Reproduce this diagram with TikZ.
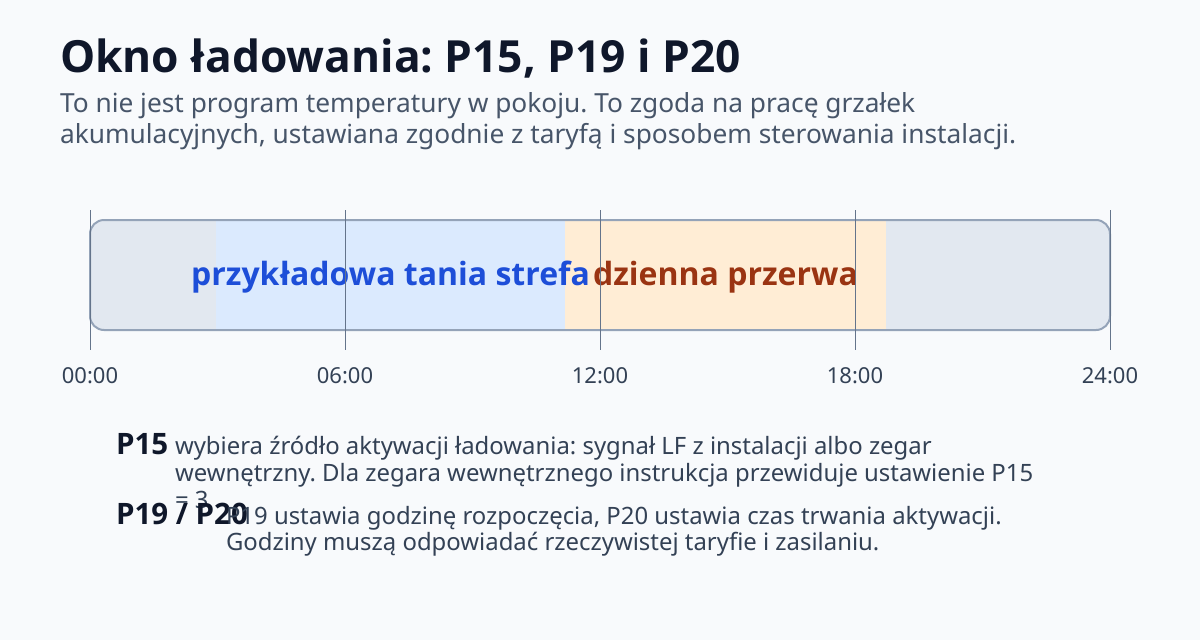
\documentclass[tikz,border=0pt]{standalone}
\usepackage{fontspec}
\IfFontExistsTF{Open Sans Bold}{%
  \setmainfont{Noto Sans}[BoldFont={Open Sans Bold}]%
}{%
  \IfFontExistsTF{OpenSans-Bold}{%
    \setmainfont{Noto Sans}[BoldFont={OpenSans-Bold}]%
  }{%
    \setmainfont{Noto Sans}[BoldFont={Noto Sans}, BoldFeatures={FakeBold=2.5}]%
  }%
}
\frenchspacing
\definecolor{bg}{HTML}{F8FAFC}
\definecolor{titlec}{HTML}{0F172A}
\definecolor{subc}{HTML}{475569}
\definecolor{bodyc}{HTML}{334155}
\definecolor{barfill}{HTML}{E2E8F0}
\definecolor{barline}{HTML}{94A3B8}
\definecolor{tickc}{HTML}{64748B}
\definecolor{cheapfill}{HTML}{DBEAFE}
\definecolor{cheaptext}{HTML}{1D4ED8}
\definecolor{pausefill}{HTML}{FFEDD5}
\definecolor{pausetext}{HTML}{9A3412}
\tikzset{
  txt/.style={inner sep=0pt, outer sep=0pt, anchor=base west},
  ticklabel/.style={inner sep=0pt, anchor=base, text=bodyc, font=\fontsize{22}{26}\selectfont},
  tickline/.style={draw=tickc, line width=1pt},
  zonelabel/.style={inner sep=0pt, anchor=base, font=\bfseries\fontsize{32}{36}\selectfont},
  body/.style={txt, text=bodyc, font=\fontsize{23.9}{28}\selectfont},
  key/.style={txt, text=titlec, font=\bfseries\fontsize{29.5}{33}\selectfont},
}
\begin{document}
\begin{tikzpicture}[x=1pt,y=-1pt]
\useasboundingbox (0,0) rectangle (1200,640);
\fill[bg] (0,0) rectangle (1200,640);
% title
\node[txt, text=titlec, font=\bfseries\fontsize{44.3}{50}\selectfont] (title) at (60,72) {Okno ładowania: P15, P19 i P20};
\node[txt, text=subc, font=\fontsize{26.3}{30}\selectfont] (sub1) at (60,112) {To nie jest program temperatury w pokoju. To zgoda na pracę grzałek};
\node[txt, text=subc, font=\fontsize{26.3}{30}\selectfont] (sub2) at (60,143) {akumulacyjnych, ustawiana zgodnie z taryfą i sposobem sterowania instalacji.};
% bar
\fill[barfill, rounded corners=14pt] (90,220) rectangle (1110,330);
\fill[cheapfill] (216,221) rectangle (565,329);
\fill[pausefill] (565,221) rectangle (886,329);
\draw[barline, line width=2pt, rounded corners=14pt] (90,220) rectangle (1110,330);
\node[zonelabel, text=cheaptext] (cheap) at (390.5,285) {przykładowa tania strefa};
\node[zonelabel, text=pausetext] (pause) at (725.5,285) {dzienna przerwa};
% ticks
\foreach \x/\l [count=\i] in {90/00:00,345/06:00,600/12:00,855/18:00,1110/24:00}{
  \draw[tickline] (\x,210) -- (\x,350);
  \node[ticklabel] (t\i) at (\x,383) {\l};
}
% explanation
\node[key] (k1) at (116,454) {P15};
\node[body] (b1a) at (175,454) {wybiera źródło aktywacji ładowania: sygnał LF z instalacji albo zegar};
\node[body] (b1b) at (175,481) {wewnętrzny. Dla zegara wewnętrznego instrukcja przewiduje ustawienie P15};
\node[body] (b1c) at (175,508) {= 3};
\node[key] (k2) at (116,524) {P19 / P20};
\node[body] (b2a) at (226,524) {P19 ustawia godzinę rozpoczęcia, P20 ustawia czas trwania aktywacji.};
\node[body] (b2b) at (226,550) {Godziny muszą odpowiadać rzeczywistej taryfie i zasilaniu.};
\end{tikzpicture}
\end{document}
